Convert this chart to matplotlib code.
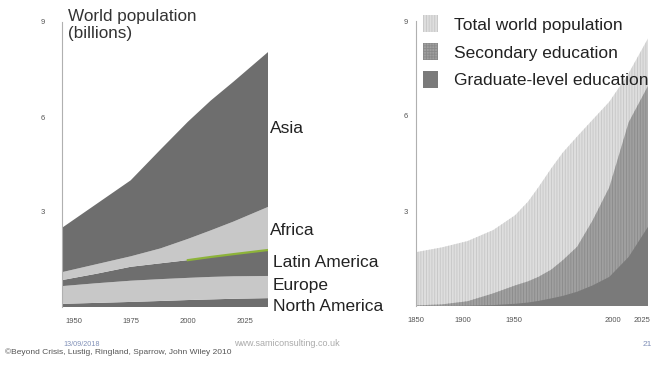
import matplotlib
matplotlib.use("Agg")
import matplotlib.pyplot as plt
from matplotlib.patches import Patch

plt.rcParams['font.family'] = ['Liberation Sans', 'DejaVu Sans']
plt.rcParams['hatch.linewidth'] = 0.6

# left chart: population by region (billions), stacked bottom to top
years_left = [1945, 1960, 1975, 1988, 2000, 2010, 2020, 2035]
north_america = [0.10, 0.13, 0.16, 0.19, 0.22, 0.24, 0.26, 0.28]
europe = [0.56, 0.62, 0.67, 0.69, 0.70, 0.71, 0.71, 0.70]
latin_america = [0.19, 0.30, 0.44, 0.50, 0.56, 0.63, 0.70, 0.82]
africa = [0.25, 0.30, 0.33, 0.47, 0.67, 0.84, 1.03, 1.36]
asia = [1.40, 1.90, 2.40, 3.12, 3.70, 4.10, 4.42, 4.89]
regions = ['North America', 'Europe', 'Latin America', 'Africa', 'Asia']
left_ticks = [1950, 1975, 2000, 2025]

# right chart: population vs education (billions), overlapping areas
years_right = [1850, 1870, 1890, 1910, 1927, 1937, 1945, 1955, 1964, 1975,
               1987, 2000, 2015, 2030]
total_pop = [1.7, 1.85, 2.05, 2.4, 2.87, 3.3, 3.75, 4.35, 4.85, 5.35,
             5.88, 6.45, 7.35, 8.45]
secondary = [0.02, 0.05, 0.15, 0.4, 0.65, 0.78, 0.92, 1.15, 1.45, 1.87,
             2.7, 3.75, 5.8, 6.95]
graduate = [0.0, 0.0, 0.01, 0.03, 0.07, 0.11, 0.16, 0.24, 0.32, 0.45,
            0.65, 0.92, 1.55, 2.5]
right_tick_pos = [1850, 1886, 1926, 2003, 2025]
right_tick_labels = ['1850', '1900', '1950', '2000', '2025']

dark = '#6e6e6e'
light = '#c8c8c8'
tick_col = '#555555'

fig = plt.figure(figsize=(6.53, 3.92), dpi=100)

# ---- left chart
ax1 = fig.add_axes([62/653, 1-307/392, 206/653, 285/392])
ax1.stackplot(years_left, north_america, europe, latin_america, africa, asia,
              colors=[dark, light, dark, light, dark], linewidth=0)
latin_top = [a + b + c for a, b, c in zip(north_america, europe, latin_america)]
ax1.plot(years_left[4:], latin_top[4:], color='#8db33a', lw=1.6)
ax1.set_xlim(1945, 2035)
ax1.set_ylim(0, 9)
ax1.set_xticks(left_ticks)
ax1.set_yticks([3, 6, 9])
for s in ['top', 'right', 'bottom']:
    ax1.spines[s].set_visible(False)
ax1.spines['left'].set_color('#b0b0b0')
ax1.spines['left'].set_linewidth(0.8)
ax1.tick_params(length=0, labelsize=5.5, labelcolor=tick_col)
ax1.tick_params(axis='y', pad=12)
ax1.tick_params(axis='x', pad=8)

label_y = [0.03, 0.69, 1.39, 2.43, 5.65]
label_x = [2037, 2037, 2037, 2036, 2036]
for name, lx, ly in zip(regions, label_x, label_y):
    ax1.text(lx, ly, name, fontsize=12.5, color='#222222', ha='left', va='center',
             clip_on=False)

fig.text(68/653, 1-9/392, 'World population\n(billions)', fontsize=12.3,
         color='#333333', ha='left', va='top', linespacing=1.15)

# ---- right chart
ax2 = fig.add_axes([416/653, 1-306/392, 232/653, 285/392])
ax2.fill_between(years_right, 0, total_pop, facecolor='#dedede',
                 edgecolor='#c6c6c6', hatch='|' * 6, linewidth=0)
ax2.fill_between(years_right, 0, secondary, facecolor='#a0a0a0',
                 edgecolor='#8a8a8a', hatch='|' * 6, linewidth=0)
ax2.fill_between(years_right, 0, graduate, facecolor='#7a7a7a', linewidth=0)
ax2.set_xlim(1850, 2030)
ax2.set_ylim(0, 9)
ax2.set_xticks(right_tick_pos)
ax2.set_xticklabels(right_tick_labels)
ax2.set_yticks([3, 6, 9])
for s in ['top', 'right', 'bottom']:
    ax2.spines[s].set_visible(False)
ax2.spines['left'].set_color('#b0b0b0')
ax2.spines['left'].set_linewidth(0.8)
ax2.tick_params(length=0, labelsize=5.5, labelcolor=tick_col)
ax2.tick_params(axis='y', pad=6)
ax2.tick_params(axis='x', pad=8)

handles = [
    Patch(facecolor='#dedede', edgecolor='#c6c6c6', hatch='|' * 6, linewidth=0),
    Patch(facecolor='#a0a0a0', edgecolor='#8a8a8a', hatch='+' * 6, linewidth=0),
    Patch(facecolor='#7a7a7a', linewidth=0),
]
leg = fig.legend(handles, ['Total world population', 'Secondary education',
                           'Graduate-level education'],
                 loc='upper left', bbox_to_anchor=(411/653, 1-3/392),
                 frameon=False, fontsize=12.5, handlelength=0.87, handleheight=1.15,
                 handletextpad=0.9, labelspacing=0.6, borderpad=0.2)
for t in leg.get_texts():
    t.set_color('#222222')

# ---- footer
fig.text(63/653, 1-345/392, '13/09/2018', fontsize=5.2, color='#8090b8',
         ha='left', va='center')
fig.text(287/653, 1-344/392, 'www.samiconsulting.co.uk', fontsize=6.5,
         color='#aaaaaa', ha='center', va='center')
fig.text(5/653, 1-352/392, '\u00a9Beyond Crisis, Lustig, Ringland, Sparrow, John Wiley 2010',
         fontsize=6.0, color='#555555', ha='left', va='center')
fig.text(643/653, 1-345/392, '21', fontsize=6, color='#8090b8',
         ha='left', va='center')

fig.savefig('out.png', dpi=100)
